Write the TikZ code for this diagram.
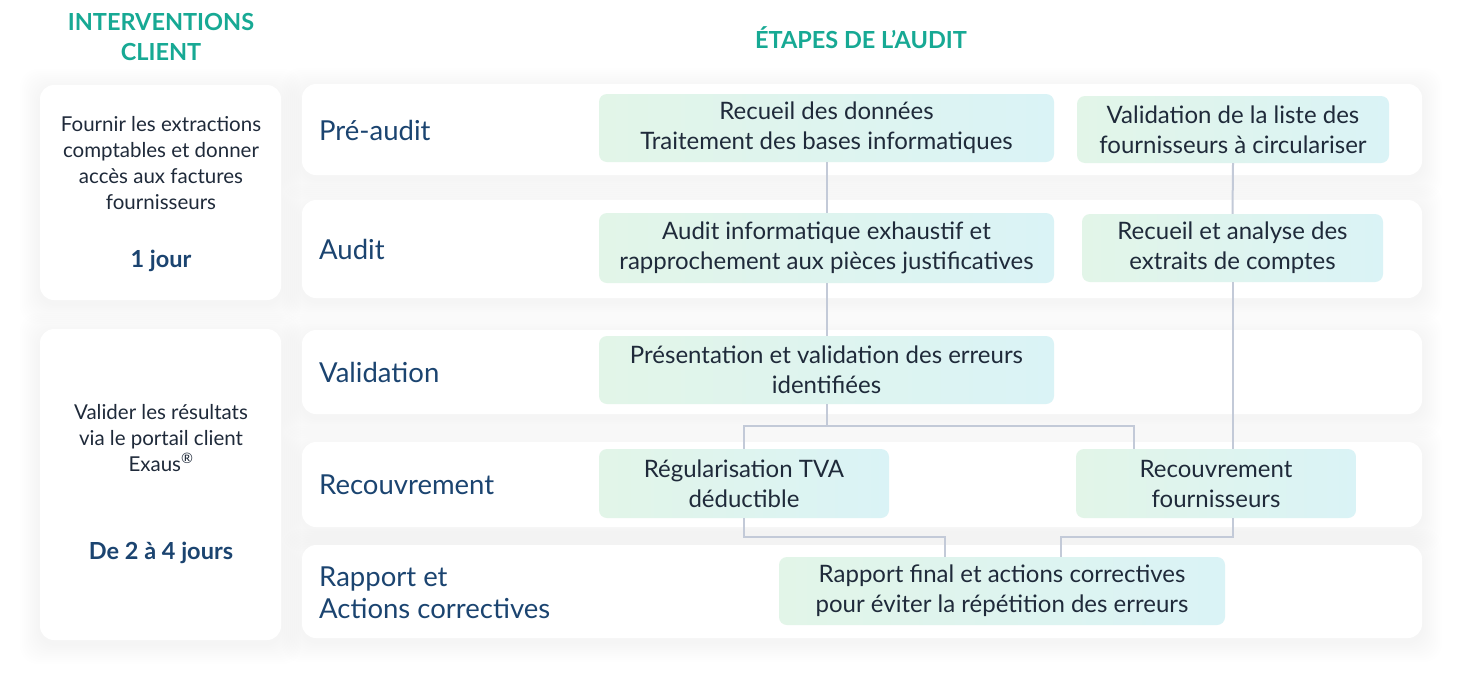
\documentclass[tikz,border=0pt]{standalone}
\usepackage{fontspec}
\setmainfont{Lato}
\usetikzlibrary{positioning}

\definecolor{headteal}{HTML}{17A994}
\definecolor{navy}{HTML}{1B4470}
\definecolor{ink}{HTML}{1F2A3A}
\definecolor{linkgray}{HTML}{C3CAD8}
\definecolor{boxgreen}{HTML}{E2F5E8}
\definecolor{boxcyan}{HTML}{DAF3F6}

% name/centre x/centre y/width/height (pixels)
\def\cardlist{lcardA/160.5/192.5/241/215, lcardB/160.5/484.5/241/311,
  rpre/862/129.5/1120/91, raudit/862/249/1120/98, rvalid/862/372/1120/84,
  rrecouv/862/484.5/1120/85, rrapport/862/591.5/1120/93}

\begin{document}
\begin{tikzpicture}[
  x=1pt, y=-1pt,
  card/.style={fill=white, rounded corners=14pt, inner sep=0pt},
  cardshade/.style={fill=black, fill opacity=0.005, rounded corners=18pt, inner sep=0pt},
  stepbox/.style={rounded corners=8pt, left color=boxgreen, right color=boxcyan,
                  align=center, text=ink, inner sep=0pt,
                  font=\fontsize{24}{30}\selectfont},
  phase/.style={anchor=west, text=navy, align=left, inner sep=0pt,
                font=\fontsize{27.5}{32}\selectfont},
  head/.style={text=headteal, align=center,
               font=\bfseries\fontsize{23.5}{30}\selectfont},
  note/.style={text=ink, align=center, font=\fontsize{20.5}{26}\selectfont},
  days/.style={text=navy, font=\bfseries\fontsize{23.5}{26}\selectfont},
  link/.style={draw=linkgray, line width=2pt}
]
\useasboundingbox[fill=white] (0,0) rectangle (1466,686);

% soft shadows, then the white cards
\foreach \n/\cx/\cy/\w/\h in \cardlist {
  \foreach \s in {2,4,...,20}
    \node[cardshade, minimum width={(\w+2*\s)*1pt}, minimum height={(\h+2*\s)*1pt}]
      at (\cx,\cy+4) {};
}
\foreach \n/\cx/\cy/\w/\h in \cardlist
  \node[card, minimum width=\w pt, minimum height=\h pt] (\n) at (\cx,\cy) {};

% headers
\node[head] (hclient) at (161,37) {INTERVENTIONS\\CLIENT};
\node[head] (haudit)  at (861,38) {ÉTAPES DE L’AUDIT};

% client side
\node[note] (fournir) at (161,163) {Fournir les extractions\\comptables et donner\\accès aux factures\\fournisseurs};
\node[days] (jourA)   at (161,261) {1 jour};
\node[note] (valider) at (161,438) {Valider les résultats\\via le portail client\\Exaus\textsuperscript{®}};
\node[days] (jourB)   at (161,553) {De 2 à 4 jours};

% phases
\node[phase] (ppre)     at (319,130) {Pré-audit};
\node[phase] (paudit)   at (319,249) {Audit};
\node[phase] (pvalid)   at (319,372) {Validation};
\node[phase] (precouv)  at (319,485) {Recouvrement};
\node[phase] (prapport) at (319,593) {Rapport et\\Actions correctives};

% steps
\node[stepbox, minimum width=455pt, minimum height=68pt] (recueil)  at (826.5,128)
  {Recueil des données\\Traitement des bases informatiques};
\node[stepbox, minimum width=312pt, minimum height=67pt] (valliste) at (1233,129.5)
  {Validation de la liste des\\fournisseurs à circulariser};
\node[stepbox, minimum width=455pt, minimum height=70pt] (auditinfo) at (826.5,248)
  {Audit informatique exhaustif et\\rapprochement aux pièces justificatives};
\node[stepbox, minimum width=301pt, minimum height=68pt] (analyse)  at (1232.5,248)
  {Recueil et analyse des\\extraits de comptes};
\node[stepbox, minimum width=455pt, minimum height=68pt] (presente) at (826.5,370)
  {Présentation et validation des erreurs\\identifiées};
\node[stepbox, minimum width=290pt, minimum height=69pt] (regul)    at (744,483.5)
  {Régularisation TVA\\déductible};
\node[stepbox, minimum width=280pt, minimum height=69pt] (recfourn) at (1216,483.5)
  {Recouvrement\\fournisseurs};
\node[stepbox, minimum width=446pt, minimum height=68pt] (rapport)  at (1002,591)
  {Rapport final et actions correctives\\pour éviter la répétition des erreurs};

% connectors
\draw[link] (recueil) -- (auditinfo);
\draw[link] (auditinfo) -- (presente);
\draw[link] (valliste.south) -- (analyse.north);
\draw[link] (analyse.south) -- (analyse.south |- recfourn.north);
\draw[link] (presente.south) -- ++(0,22) coordinate (vsplit);
\draw[link] (regul.north) |- (vsplit) -| ([xshift=-82pt]recfourn.north);
\draw[link] (regul.south) |- ([xshift=-57pt,yshift=20pt]rapport.north)
  -- ([xshift=-57pt]rapport.north);
\draw[link] (analyse.south |- recfourn.south) |- ([xshift=59pt,yshift=20pt]rapport.north)
  -- ([xshift=59pt]rapport.north);
\end{tikzpicture}
\end{document}
